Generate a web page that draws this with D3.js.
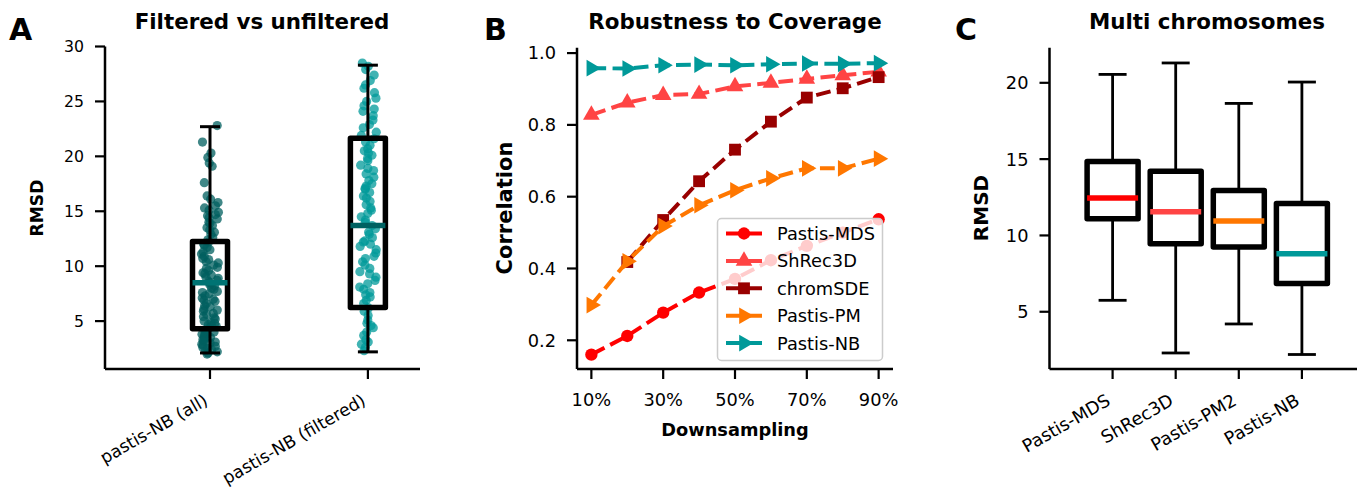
<!DOCTYPE html>
<html>
<head>
<meta charset="utf-8">
<script src="https://cdn.jsdelivr.net/npm/d3@7"></script>
<style>
  body { margin: 0; background: #fff; }
  svg { display: block; font-family: "DejaVu Sans", sans-serif; }
</style>
</head>
<body>
<script>
// ---- panel A : filtered vs unfiltered ----
var aLabels = ["pastis-NB (all)", "pastis-NB (filtered)"];
var aLow  = [2.1, 2.2];
var aQ1   = [4.3, 6.25];
var aMed  = [8.5, 13.7];
var aQ3   = [12.25, 21.65];
var aHigh = [22.7, 28.3];
var aTicks = [5, 10, 15, 20, 25, 30];
var aPointsAll = [22.8, 21.3, 20.3, 19.9, 19.4, 19.1, 17.6, 16.4, 16.1, 15.8, 15.5, 15.3, 14.9, 14.7,
  14.4, 14.3, 14.0, 13.7, 13.5, 13.1, 12.9, 12.6, 12.2, 12.0, 11.7, 11.5, 11.1, 10.9, 10.6, 10.3,
  10.1, 9.8, 9.6, 9.3, 9.2, 8.9, 8.7, 8.5, 8.2, 8.0, 7.7, 7.5, 7.3, 7.0, 6.8, 6.6, 6.3, 6.1, 5.9,
  5.6, 5.4, 5.2, 4.9, 4.7, 4.5, 4.4, 4.2, 3.9, 3.7, 3.6, 3.3, 3.1, 2.9, 2.8, 2.6, 2.4, 2.3, 2.1,
  2.0, 2.5, 3.0, 3.4, 3.8, 4.1, 4.6, 5.0, 5.7, 6.4, 7.1, 7.9, 8.6, 9.4, 10.4, 11.3, 12.4, 13.3, 14.6,
  15.1, 2.2, 2.7, 3.2, 3.5, 4.0, 4.8, 5.3, 6.0, 6.9, 7.6, 8.3, 9.0, 9.9, 10.7, 11.9, 13.9];
var aPointsFiltered = [28.5, 28.2, 27.9, 27.4, 26.9, 26.2, 25.8, 25.3, 25.0, 24.6, 24.1, 23.7, 23.3,
  22.9, 22.6, 22.2, 21.9, 21.6, 21.3, 21.0, 20.7, 20.5, 20.1, 19.8, 19.6, 19.2, 18.9, 18.7, 18.4,
  18.1, 17.8, 17.5, 17.3, 17.0, 16.7, 16.4, 16.2, 15.9, 15.6, 15.3, 15.1, 14.8, 14.5, 14.2, 14.0,
  13.7, 13.4, 13.1, 12.9, 12.6, 12.3, 12.0, 11.8, 11.5, 11.2, 10.9, 10.7, 10.4, 10.1, 9.8, 9.5,
  9.3, 9.0, 8.7, 8.4, 8.1, 7.9, 7.6, 7.2, 6.9, 6.6, 6.2, 5.9, 5.5, 5.1, 4.8, 4.4, 4.0, 3.7, 3.3,
  2.9, 2.6, 2.3, 26.5, 24.3, 20.3, 17.1, 12.2, 7.4, 4.6, 3.1];

// ---- panel B : robustness to coverage ----
var downsampling = [10, 20, 30, 40, 50, 60, 70, 80, 90];
var bTicks = [10, 30, 50, 70, 90];
var corrTicks = [0.2, 0.4, 0.6, 0.8, 1.0];
var pastisMDS = [0.16, 0.212, 0.277, 0.333, 0.371, 0.423, 0.463, 0.50, 0.537];
var shrec3D   = [0.828, 0.862, 0.883, 0.886, 0.907, 0.917, 0.928, 0.938, 0.948];
var chromSDE  = [null, 0.418, 0.535, 0.643, 0.731, 0.809, 0.876, 0.902, 0.933];
var pastisPM  = [0.298, 0.42, 0.518, 0.576, 0.618, 0.651, 0.679, 0.679, 0.706];
var pastisNB  = [0.958, 0.957, 0.966, 0.968, 0.966, 0.969, 0.971, 0.970, 0.972];

// ---- panel C : multi chromosomes ----
var cLabels = ["Pastis-MDS", "ShRec3D", "Pastis-PM2", "Pastis-NB"];
var cLow  = [5.75, 2.3, 4.2, 2.2];
var cQ1   = [11.1, 9.45, 9.25, 6.85];
var cMed  = [12.45, 11.55, 10.95, 8.8];
var cQ3   = [14.85, 14.2, 12.95, 12.1];
var cHigh = [20.55, 21.3, 18.65, 20.05];
var cTicks = [5, 10, 15, 20];

var W = 1357, H = 489;
var svg = d3.select("body").append("svg").attr("width", W).attr("height", H);

function spines(g, x0, x1, y0, y1) {
    g.append("line").attr("x1", x0).attr("x2", x0).attr("y1", y0).attr("y2", y1)
        .attr("stroke", "#000").attr("stroke-width", 2.5);
    g.append("line").attr("x1", x0).attr("x2", x1).attr("y1", y1).attr("y2", y1)
        .attr("stroke", "#000").attr("stroke-width", 2.5);
}

function yAxis(g, y, x0, ticks, size, fmt) {
    ticks.forEach(function (t) {
        g.append("line").attr("x1", x0 - 10).attr("x2", x0).attr("y1", y(t)).attr("y2", y(t))
            .attr("stroke", "#000").attr("stroke-width", 2.2);
        g.append("text").attr("x", x0 - 21).attr("y", y(t)).attr("dy", "0.36em")
            .attr("text-anchor", "end").attr("font-size", size).text(fmt ? fmt(t) : t);
    });
}

function rotatedLabels(g, x, y1, ticks, labels, size) {
    ticks.forEach(function (t, i) {
        g.append("line").attr("x1", x(t)).attr("x2", x(t)).attr("y1", y1).attr("y2", y1 + 10)
            .attr("stroke", "#000").attr("stroke-width", 2.2);
        g.append("text").attr("text-anchor", "end").attr("font-size", size)
            .attr("transform", "translate(" + (x(t) - 1) + "," + (y1 + 35) + ") rotate(-30)")
            .text(labels[i]);
    });
}

function title(g, cx, text) {
    g.append("text").attr("x", cx).attr("y", 29).attr("text-anchor", "middle")
        .attr("font-weight", "bold").attr("font-size", 21.4).text(text);
}

function letter(g, x, text) {
    g.append("text").attr("x", x).attr("y", 40).attr("font-weight", "bold")
        .attr("font-size", 30).text(text);
}

function ylabel(g, x, cy, size, text) {
    g.append("text").attr("transform", "translate(" + x + "," + cy + ") rotate(-90)")
        .attr("text-anchor", "middle").attr("font-weight", "bold").attr("font-size", size).text(text);
}

function box(g, cx, half, capHalf, lo, q1, med, q3, hi, y, medColor, lw) {
    g.append("line").attr("x1", cx).attr("x2", cx).attr("y1", y(hi)).attr("y2", y(q3))
        .attr("stroke", "#000").attr("stroke-width", lw);
    g.append("line").attr("x1", cx).attr("x2", cx).attr("y1", y(q1)).attr("y2", y(lo))
        .attr("stroke", "#000").attr("stroke-width", lw);
    [lo, hi].forEach(function (v) {
        g.append("line").attr("x1", cx - capHalf).attr("x2", cx + capHalf).attr("y1", y(v)).attr("y2", y(v))
            .attr("stroke", "#000").attr("stroke-width", lw);
    });
    g.append("rect").attr("x", cx - half).attr("y", y(q3)).attr("width", half * 2)
        .attr("height", y(q1) - y(q3)).attr("fill", "none").attr("stroke", "#000")
        .attr("stroke-width", 5.5).attr("stroke-linejoin", "round");
    g.append("line").attr("x1", cx - half).attr("x2", cx + half).attr("y1", y(med)).attr("y2", y(med))
        .attr("stroke", medColor).attr("stroke-width", 5.5);
}

// horizontal jitter for the strip points, fixed per index (no randomness)
function jitter(i) {
    var s = Math.sin((i + 1) * 12.9898) * 43758.5453;
    return (s - Math.floor(s)) * 17 - 8.5;
}

// ================= A =================
var gA = svg.append("g");
var xA = d3.scaleLinear().domain([-0.665, 1.33]).range([105, 420]);
var yA = d3.scaleLinear().domain([0.64, 30]).range([369, 46.5]);
var aPoints = [aPointsAll, aPointsFiltered];
var aDotColor = ["#005f5f", "#009999"];
var aMedColor = ["#007373", "#006262"];

aPoints.forEach(function (pts, k) {
    gA.append("g").selectAll("circle").data(pts).join("circle")
        .attr("cx", function (d, i) { return xA(k) + jitter(i + k * 200); })
        .attr("cy", function (d) { return yA(d); })
        .attr("r", 4.6)
        .attr("fill", aDotColor[k]).attr("fill-opacity", 0.75);
});
aLabels.forEach(function (l, k) {
    box(gA, xA(k), 17.5, 10, aLow[k], aQ1[k], aMed[k], aQ3[k], aHigh[k], yA, aMedColor[k], 3);
});
spines(gA, 105, 420, 46.5, 369);
yAxis(gA, yA, 105, aTicks, 15.7);
rotatedLabels(gA, xA, 369, [0, 1], aLabels, 17.2);
title(gA, 262, "Filtered vs unfiltered");
letter(gA, 9, "A");
ylabel(gA, 43, 208, 17.2, "RMSD");

// ================= B =================
var gB = svg.append("g");
var xB = d3.scaleLinear().domain([6, 94]).range([577, 893]);
var yB = d3.scaleLinear().domain([0.12, 1.015]).range([369, 47.7]);

var series = [
    { name: "Pastis-MDS", values: pastisMDS, color: "#ff0000", sym: d3.symbolCircle, size: 120, rot: 0 },
    { name: "ShRec3D", values: shrec3D, color: "#ff4444", sym: d3.symbolTriangle, size: 120, rot: 0 },
    { name: "chromSDE", values: chromSDE, color: "#990000", sym: d3.symbolSquare, size: 140, rot: 0 },
    { name: "Pastis-PM", values: pastisPM, color: "#ff7700", sym: d3.symbolTriangle, size: 120, rot: 90 },
    { name: "Pastis-NB", values: pastisNB, color: "#009999", sym: d3.symbolTriangle, size: 120, rot: 90 }
];

var line = d3.line()
    .defined(function (d) { return d.v != null; })
    .x(function (d) { return xB(d.x); })
    .y(function (d) { return yB(d.v); });

series.forEach(function (s) {
    var pts = downsampling.map(function (x, i) { return { x: x, v: s.values[i] }; });
    gB.append("path").datum(pts).attr("d", line).attr("fill", "none")
        .attr("stroke", s.color).attr("stroke-width", 4).attr("stroke-dasharray", "14.8,6.4");
    gB.append("g").selectAll("path").data(pts.filter(function (d) { return d.v != null; })).join("path")
        .attr("d", d3.symbol().type(s.sym).size(s.size))
        .attr("transform", function (d) {
            return "translate(" + xB(d.x) + "," + yB(d.v) + ") rotate(" + s.rot + ")";
        })
        .attr("fill", s.color);
});

spines(gB, 577, 893, 47.7, 369);
yAxis(gB, yB, 577, corrTicks, 17.8, d3.format(".1f"));
bTicks.forEach(function (t) {
    gB.append("line").attr("x1", xB(t)).attr("x2", xB(t)).attr("y1", 369).attr("y2", 379)
        .attr("stroke", "#000").attr("stroke-width", 2.2);
    gB.append("text").attr("x", xB(t)).attr("y", 405.5).attr("text-anchor", "middle")
        .attr("font-size", 17.8).text(t + "%");
});
gB.append("text").attr("x", 735).attr("y", 436).attr("text-anchor", "middle")
    .attr("font-weight", "bold").attr("font-size", 17.8).text("Downsampling");
ylabel(gB, 512, 208, 21, "Correlation");
title(gB, 735, "Robustness to Coverage");
letter(gB, 484, "B");

// legend
var leg = gB.append("g");
leg.append("rect").attr("x", 717.5).attr("y", 218.5).attr("width", 165).attr("height", 142)
    .attr("rx", 4).attr("fill", "#fff").attr("fill-opacity", 0.8)
    .attr("stroke", "#cccccc").attr("stroke-width", 1.5);
series.forEach(function (s, i) {
    var cy = 233.5 + i * 27.4;
    leg.append("line").attr("x1", 726).attr("x2", 762).attr("y1", cy).attr("y2", cy)
        .attr("stroke", s.color).attr("stroke-width", 4).attr("stroke-dasharray", "14.8,6.4");
    leg.append("path").attr("d", d3.symbol().type(s.sym).size(s.size)())
        .attr("transform", "translate(744," + cy + ") rotate(" + s.rot + ")").attr("fill", s.color);
    leg.append("text").attr("x", 777).attr("y", cy).attr("dy", "0.36em")
        .attr("font-size", 17.8).text(s.name);
});

// ================= C =================
var gC = svg.append("g");
var xC = d3.scaleLinear().domain([0, 5]).range([1049.5, 1365]);
var yC = d3.scaleLinear().domain([1.25, 22.3]).range([369, 47.7]);
var cMedColor = ["#ff0000", "#ff4444", "#ff7700", "#009999"];
cLabels.forEach(function (l, k) {
    box(gC, xC(k + 1), 25.5, 14, cLow[k], cQ1[k], cMed[k], cQ3[k], cHigh[k], yC, cMedColor[k], 2.8);
});
spines(gC, 1049.5, 1365, 47.7, 369);
yAxis(gC, yC, 1049.5, cTicks, 17.8);
rotatedLabels(gC, xC, 369, [1, 2, 3, 4], cLabels, 17.8);
title(gC, 1207, "Multi chromosomes");
letter(gC, 955, "C");
ylabel(gC, 988, 208, 20, "RMSD");
</script>
</body>
</html>
